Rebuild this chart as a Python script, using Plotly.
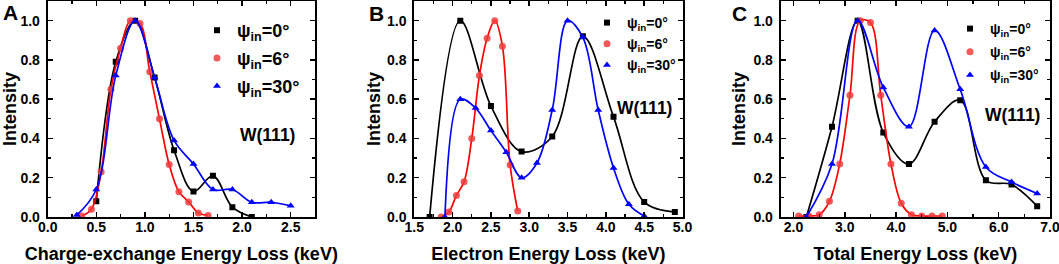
import plotly.graph_objects as go

# ---------------- data ----------------
# Panel A: charge-exchange energy loss (keV)
a0_x = [0.5, 0.7, 0.9, 1.1, 1.3, 1.5, 1.7, 1.9, 2.1]
a0_y = [0.08, 0.79, 1.0, 0.71, 0.34, 0.13, 0.21, 0.05, 0.0]
a6_x = [0.35, 0.45, 0.55, 0.65, 0.75, 0.85, 0.95, 1.05, 1.15, 1.25, 1.35, 1.45, 1.55, 1.65]
a6_y = [0.005, 0.04, 0.23, 0.65, 0.86, 1.0, 0.985, 0.74, 0.50, 0.267, 0.128, 0.077, 0.02, 0.008]
a30_x = [0.3, 0.5, 0.7, 0.9, 1.1, 1.3, 1.5, 1.7, 1.9, 2.1, 2.3, 2.5]
a30_y = [0.01, 0.14, 0.72, 1.0, 0.71, 0.39, 0.27, 0.14, 0.14, 0.075, 0.075, 0.057]

# Panel B: electron energy loss (keV)
b0_x = [1.7, 2.1, 2.5, 2.9, 3.3, 3.7, 4.1, 4.5, 4.9]
b0_y = [0.0, 1.0, 0.565, 0.333, 0.41, 0.92, 0.51, 0.077, 0.026]
b6_x = [1.85, 1.95, 2.05, 2.15, 2.25, 2.35, 2.45, 2.55, 2.65, 2.75, 2.85]
b6_y = [0.0, 0.025, 0.11, 0.18, 0.40, 0.72, 0.91, 1.0, 0.87, 0.265, 0.03]
b30_x = [1.9, 2.1, 2.3, 2.5, 2.7, 2.9, 3.1, 3.3, 3.5, 3.7, 3.9, 4.1, 4.3, 4.5]
b30_y = [0.0, 0.60, 0.555, 0.44, 0.33, 0.20, 0.275, 0.545, 1.0, 0.915, 0.545, 0.25, 0.065, 0.005]

# Panel C: total energy loss (keV)
c0_x = [2.25, 2.75, 3.25, 3.75, 4.25, 4.75, 5.25, 5.75, 6.25, 6.75]
c0_y = [0.0, 0.46, 1.0, 0.43, 0.27, 0.485, 0.595, 0.187, 0.165, 0.055]
c6_x = [2.1, 2.3, 2.5, 2.7, 2.9, 3.1, 3.3, 3.5, 3.7, 3.9, 4.1, 4.3, 4.5, 4.7, 4.9]
c6_y = [0.005, 0.005, 0.012, 0.08, 0.27, 0.62, 1.0, 0.99, 0.62, 0.27, 0.07, 0.012, 0.005, 0.005, 0.005]
c30_x = [2.25, 2.75, 3.25, 3.75, 4.25, 4.75, 5.25, 5.75, 6.25, 6.75]
c30_y = [0.0, 0.27, 1.0, 0.66, 0.46, 0.95, 0.65, 0.255, 0.178, 0.12]

series_names = ["ψ<sub>in</sub>=0°", "ψ<sub>in</sub>=6°", "ψ<sub>in</sub>=30°"]
panel_letters = ["A", "B", "C"]
x_titles = ["Charge-exchange Energy Loss (keV)", "Electron Energy Loss (keV)", "Total Energy Loss (keV)"]
sample_label = "W(111)"

panels = [
    [(a0_x, a0_y), (a6_x, a6_y), (a30_x, a30_y)],
    [(b0_x, b0_y), (b6_x, b6_y), (b30_x, b30_y)],
    [(c0_x, c0_y), (c6_x, c6_y), (c30_x, c30_y)],
]

# ---------------- style ----------------
W, H = 1059, 264
MT, MB = 1, 47
FONT = "Liberation Sans, Arial, Helvetica, sans-serif"
line_colors = ["#000000", "#ff0000", "#0000ff"]
marker_colors = ["#000000", "rgba(240,60,60,0.85)", "#0000ff"]
symbols = ["square", "circle", "triangle-up"]
msizes = [6, 7, 7]


def px(xp):
    return xp / W


def py(yp):
    return 1 - (yp - MT) / (H - MT - MB)


domains = [(47.7, 315.0), (414.3, 682.5), (780.7, 1050.0)]
x_ranges = [[0, 2.75], [1.5, 5.0], [1.75, 7.0]]
x_dticks = [0.5, 0.5, 1.0]
y_title_standoff = [5, 2, 3]

fig = go.Figure()

legend_names = ["legend", "legend2", "legend3"]
for p, data in enumerate(panels):
    xa = "x" if p == 0 else f"x{p+1}"
    ya = "y" if p == 0 else f"y{p+1}"
    for s, (xs, ys) in enumerate(data):
        fig.add_trace(go.Scatter(
            x=xs, y=ys, mode="lines", xaxis=xa, yaxis=ya,
            line=dict(color=line_colors[s], width=1.7, shape="spline", smoothing=1.0),
            showlegend=False, hoverinfo="skip"))
        fig.add_trace(go.Scatter(
            x=xs, y=ys, mode="markers", xaxis=xa, yaxis=ya,
            marker=dict(symbol=symbols[s], size=msizes[s], color=marker_colors[s]),
            name=series_names[s], legend=legend_names[p], legendgroup=f"g{p}{s}"))

axis_common = dict(
    showline=True, linecolor="black", linewidth=2, mirror="allticks",
    ticks="inside", ticklen=5, tickwidth=1.5, tickcolor="black",
    showgrid=False, zeroline=False, ticklabeloverflow="allow",
    tickfont=dict(family=FONT, size=14, color="black", weight="bold"),
)

layout = dict(
    width=W, height=H, margin=dict(l=0, r=0, t=MT, b=MB, autoexpand=False),
    paper_bgcolor="white", plot_bgcolor="white", showlegend=True,
    font=dict(family=FONT, color="black"),
)

for p in range(3):
    xk = "xaxis" if p == 0 else f"xaxis{p+1}"
    yk = "yaxis" if p == 0 else f"yaxis{p+1}"
    xa_id = "x" if p == 0 else f"x{p+1}"
    ya_id = "y" if p == 0 else f"y{p+1}"
    layout[xk] = dict(axis_common, domain=[px(domains[p][0]), px(domains[p][1])], range=x_ranges[p], anchor=ya_id,
                      dtick=x_dticks[p], tick0=0, tickformat=".1f",
                      minor=dict(dtick=x_dticks[p] / 2, ticks="inside", ticklen=3, tickcolor="black", tickwidth=1.2),
                      title=dict(text=x_titles[p], font=dict(family=FONT, size=18, weight="bold"), standoff=14),
                      ticklabelstandoff=-4)
    layout[yk] = dict(axis_common, domain=[0, 1], range=[0, 1.1], anchor=xa_id,
                      dtick=0.2, tick0=0, tickformat=".1f",
                      minor=dict(dtick=0.1, ticks="inside", ticklen=3, tickcolor="black", tickwidth=1.2),
                      title=dict(text="Intensity", font=dict(family=FONT, size=18, weight="bold"),
                                 standoff=y_title_standoff[p]),
                      ticklabelstandoff=3)

legend_pos = [(197, 12), (587, 7), (950, 13)]
legend_fonts = [18, 14, 14]
legend_gaps = [1.5, 0, 2]
for p, ln in enumerate(legend_names):
    lx, ly = legend_pos[p]
    layout[ln] = dict(x=px(lx), y=py(ly), xanchor="left", yanchor="top", xref="paper", yref="paper",
                      bgcolor="rgba(0,0,0,0)", borderwidth=0,
                      font=dict(family=FONT, size=legend_fonts[p], weight="bold", color="black"),
                      tracegroupgap=legend_gaps[p], itemclick=False)

annotations = []
letter_pos = [(10, 12.5), (376.5, 13), (739, 13)]
for p, (lx, ly) in enumerate(letter_pos):
    annotations.append(dict(text=f"<b>{panel_letters[p]}</b>", x=px(lx), y=py(ly), xref="paper", yref="paper",
                            xanchor="center", yanchor="middle", showarrow=False,
                            font=dict(family=FONT, size=21, color="black")))
w_pos = [(267, 135), (644, 108), (1012, 115)]
for p, (wx, wy) in enumerate(w_pos):
    annotations.append(dict(text=f"<b>{sample_label}</b>", x=px(wx), y=py(wy), xref="paper", yref="paper",
                            xanchor="center", yanchor="middle", showarrow=False,
                            font=dict(family=FONT, size=17.5, color="black")))
layout["annotations"] = annotations

fig.update_layout(**layout)
fig.write_html("out.html",
               config={"displayModeBar": False, "staticPlot": True},
               post_script="document.body.style.margin='0px';document.body.style.padding='0px';"
                           "document.body.style.overflow='hidden';")
